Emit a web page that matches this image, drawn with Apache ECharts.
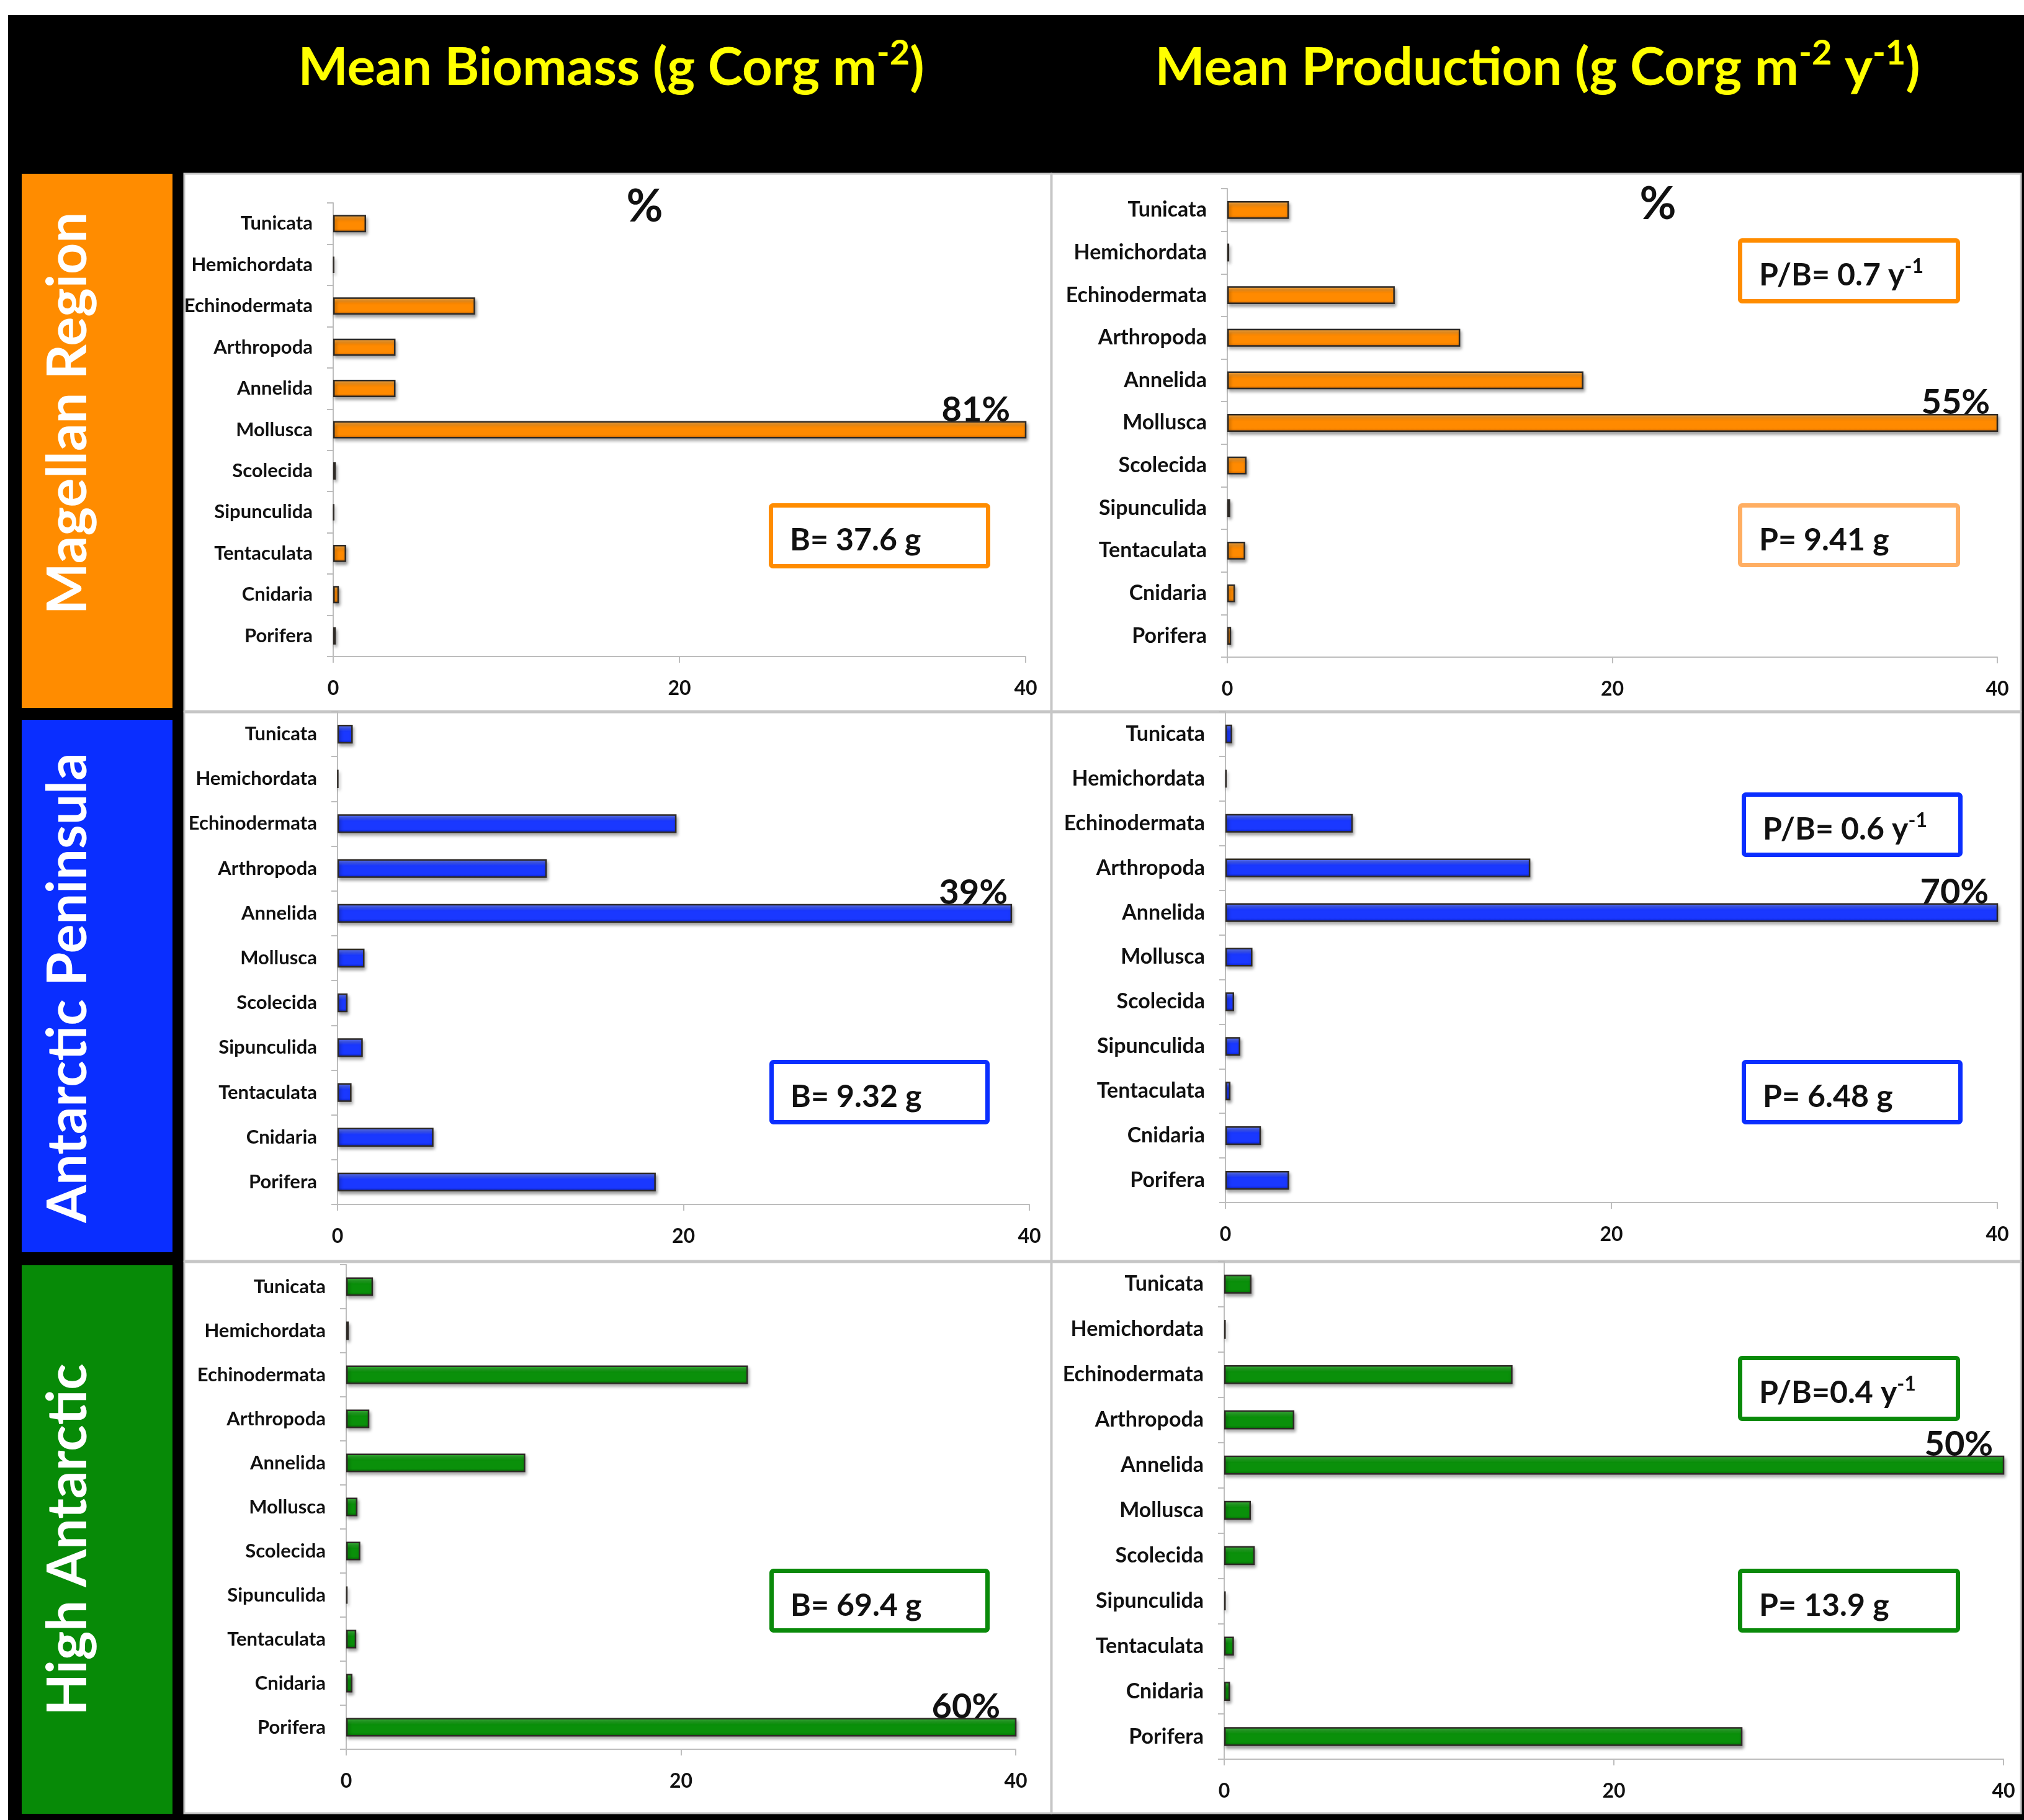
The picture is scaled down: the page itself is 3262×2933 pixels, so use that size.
<!DOCTYPE html>
<html><head><meta charset="utf-8">
<script src="https://cdn.jsdelivr.net/npm/echarts@6/dist/echarts.min.js"></script>
<style>html,body{margin:0;padding:0;background:#fff}#c{width:3262px;height:2933px}</style>
</head><body><div id="c"></div>
<script>
// ---------- DATA ----------
const categories = ['Tunicata','Hemichordata','Echinodermata','Arthropoda','Annelida','Mollusca','Scolecida','Sipunculida','Tentaculata','Cnidaria','Porifera'];
const regions = ['Magellan Region','Antarctic Peninsula','High Antarctic'];
const xTicks = [0, 20, 40];
// percent of total per taxon
const magellanBiomass      = [1.9, 0.05, 8.2, 3.6, 3.6, 81, 0.15, 0.05, 0.75, 0.33, 0.15];
const magellanProduction   = [3.2, 0.1, 8.7, 12.1, 18.5, 55, 1.0, 0.15, 0.93, 0.4, 0.2];
const peninsulaBiomass     = [0.88, 0.03, 19.6, 12.1, 39, 1.56, 0.58, 1.46, 0.81, 5.55, 18.4];
const peninsulaProduction  = [0.35, 0.05, 6.6, 15.8, 70, 1.4, 0.45, 0.77, 0.26, 1.84, 3.3];
const highBiomass          = [1.6, 0.15, 24.0, 1.38, 10.7, 0.67, 0.84, 0.07, 0.6, 0.37, 60];
const highProduction       = [1.4, 0.08, 14.8, 3.6, 50, 1.37, 1.57, 0.08, 0.5, 0.3, 26.6];
const biomassTotals    = ['37.6', '9.32', '69.4'];
const productionTotals = ['9.41', '6.48', '13.9'];
const pbRatios         = ['0.7', '0.6', '0.4'];
const pbSeparators     = [' ', ' ', ''];

// ---------- LAYOUT / STYLE ----------
const panelValues = [magellanBiomass, magellanProduction, peninsulaBiomass, peninsulaProduction, highBiomass, highProduction];
const gridRects = [
  [537, 327, 1116, 731],
  [1978, 304, 1241, 755],
  [544, 1147, 1115, 794],
  [1975, 1147, 1244, 791],
  [558, 2038, 1079, 781],
  [1973, 2033, 1256, 802]
];
const pctLabelOffsets = [-26, -13, -7, -15, -26, -18];
const catFontSizes = [31, 34];
const rowStyles = [
  {main:'#FF8A00', light:'#FFB451', dark:'#C86400', region:'#FF8C00', box:'#FF8C00', box2:'#FFAE62'},
  {main:'#1A38FF', light:'#6E86FF', dark:'#0A1FC0', region:'#0A2EFF', box:'#0A2EFF', box2:'#0A2EFF'},
  {main:'#0A900A', light:'#44C444', dark:'#056805', region:'#078A07', box:'#0A8A0A', box2:'#0A8A0A'}
];
const FONT = 'Lato';
const axisGray = '#bdbdbd';

const grids = [], xAxes = [], yAxes = [], series = [];
panelValues.forEach((vals, i) => {
  const r = Math.floor(i / 2);
  const st = rowStyles[r];
  const g = gridRects[i];
  grids.push({left: g[0], top: g[1], width: g[2], height: g[3], containLabel: false});
  xAxes.push({
    gridIndex: i, type: 'value', min: xTicks[0], max: xTicks[xTicks.length - 1], interval: xTicks[1] - xTicks[0],
    axisLine: {show: true, onZero: false, lineStyle: {color: axisGray, width: 2}},
    axisTick: {show: true, length: 10, lineStyle: {color: axisGray, width: 2}},
    splitLine: {show: false},
    axisLabel: {margin: 36, fontFamily: FONT, fontWeight: 'bold', fontSize: 32, color: '#111'}
  });
  yAxes.push({
    gridIndex: i, type: 'category', data: categories, inverse: true,
    axisLine: {show: true, lineStyle: {color: axisGray, width: 2}},
    axisTick: {show: true, length: 10, lineStyle: {color: axisGray, width: 2}},
    axisLabel: {margin: 33, fontFamily: FONT, fontWeight: 'bold', fontSize: catFontSizes[i % 2], color: '#111'}
  });
  const maxIdx = vals.indexOf(Math.max(...vals));
  series.push({
    type: 'bar', xAxisIndex: i, yAxisIndex: i, barWidth: '42%', clip: true,
    emphasis: {disabled: true},
    itemStyle: {
      color: new echarts.graphic.LinearGradient(0, 0, 0, 1, [
        {offset: 0, color: st.light}, {offset: 0.35, color: st.main},
        {offset: 0.8, color: st.main}, {offset: 1, color: st.dark}
      ]),
      borderColor: '#2e2a26', borderWidth: 2.5,
      shadowColor: 'rgba(0,0,0,0.35)', shadowBlur: 5, shadowOffsetX: 2, shadowOffsetY: 4
    },
    data: vals.map((v, k) => k === maxIdx ? {
      value: v,
      label: {
        show: true, position: ['100%', 0], align: 'right', verticalAlign: 'bottom',
        offset: [pctLabelOffsets[i], 10],
        formatter: p => Math.round(p.value) + '%',
        fontFamily: FONT, fontWeight: 'bold', fontSize: 56, color: '#111'
      }
    } : v)
  });
});

// ---------- GRAPHICS ----------
const graphics = [];
graphics.push({type: 'rect', z: -30, shape: {x: 13, y: 24, width: 3262 - 13, height: 2933 - 24}, style: {fill: '#000'}});
const panelRects = [
  [297, 280, 1397, 866], [1695, 280, 1562, 866],
  [297, 1148, 1397, 884], [1695, 1148, 1562, 884],
  [297, 2034, 1397, 888], [1695, 2034, 1562, 888]
];
panelRects.forEach(p => graphics.push({type: 'rect', z: -20, shape: {x: p[0], y: p[1], width: p[2], height: p[3]}, style: {fill: '#fff', stroke: '#c6c6c6', lineWidth: 3}}));
const regionRects = [[35, 280, 243, 861], [35, 1160, 243, 858], [35, 2039, 243, 884]];
const regionTextY = [666, 1592, 2481];
regionRects.forEach((p, r) => {
  graphics.push({type: 'rect', z: -20, shape: {x: p[0], y: p[1], width: p[2], height: p[3]}, style: {fill: rowStyles[r].region}});
  graphics.push({type: 'text', z: 50, x: 111, y: regionTextY[r], rotation: Math.PI / 2,
    style: {text: regions[r], fill: '#fff', fontFamily: FONT, fontWeight: 'bold', fontSize: 88, align: 'center', verticalAlign: 'middle'}});
});
// column titles
const titleRich = {
  a: {fill: '#FFFF00', fontFamily: FONT, fontWeight: 'bold', fontSize: 85, lineHeight: 104},
  s: {fill: '#FFFF00', fontFamily: FONT, fontWeight: 'bold', fontSize: 56, lineHeight: 66, verticalAlign: 'top'}
};
graphics.push({type: 'text', z: 50, x: 985, y: 110, style: {text: '{a|Mean Biomass (g Corg m}{s|-2}{a|)}', rich: titleRich, align: 'center', verticalAlign: 'middle'}});
graphics.push({type: 'text', z: 50, x: 2478, y: 110, style: {text: '{a|Mean Production (g Corg m}{s|-2}{a| y}{s|-1}{a|)}', rich: titleRich, align: 'center', verticalAlign: 'middle'}});
// % headers
graphics.push({type: 'text', z: 50, x: 1039, y: 334, style: {text: '%', fill: '#111', fontFamily: FONT, fontWeight: 'bold', fontSize: 72, align: 'center', verticalAlign: 'middle'}});
graphics.push({type: 'text', z: 50, x: 2672, y: 330, style: {text: '%', fill: '#111', fontFamily: FONT, fontWeight: 'bold', fontSize: 72, align: 'center', verticalAlign: 'middle'}});
// annotation boxes
const boxRich = {
  a: {fill: '#111', fontFamily: FONT, fontWeight: 'bold', fontSize: 50, lineHeight: 60},
  s: {fill: '#111', fontFamily: FONT, fontWeight: 'bold', fontSize: 32, lineHeight: 40, verticalAlign: 'top'}
};
function addBox(b, color, text) {
  const lw = 7;
  graphics.push({type: 'rect', z: 40, shape: {x: b[0] + lw / 2, y: b[1] + lw / 2, width: b[2] - lw, height: b[3] - lw, r: 3},
    style: {fill: '#fff', stroke: color, lineWidth: lw}});
  graphics.push({type: 'text', z: 41, x: b[0] + 34, y: b[1] + 60, style: {text: text, rich: boxRich, align: 'left', verticalAlign: 'middle'}});
}
const bBoxes = [[1239, 811, 357, 105], [1240, 1708, 355, 104], [1240, 2528, 355, 103]];
const pbBoxes = [[2801, 384, 358, 105], [2807, 1277, 356, 104], [2801, 2185, 358, 105]];
const pBoxes = [[2801, 811, 358, 103], [2807, 1708, 356, 104], [2801, 2528, 358, 103]];
for (let r = 0; r < 3; r++) {
  addBox(bBoxes[r], rowStyles[r].box, '{a|B= ' + biomassTotals[r] + ' g}');
  addBox(pbBoxes[r], rowStyles[r].box, '{a|P/B=' + pbSeparators[r] + pbRatios[r] + ' y}{s|-1}');
  addBox(pBoxes[r], rowStyles[r].box2, '{a|P= ' + productionTotals[r] + ' g}');
}

const chart = echarts.init(document.getElementById('c'), null, {renderer: 'canvas', width: 3262, height: 2933});
chart.setOption({
  animation: false,
  backgroundColor: '#fff',
  grid: grids, xAxis: xAxes, yAxis: yAxes, series: series,
  graphic: {elements: graphics}
});
</script>
</body></html>
